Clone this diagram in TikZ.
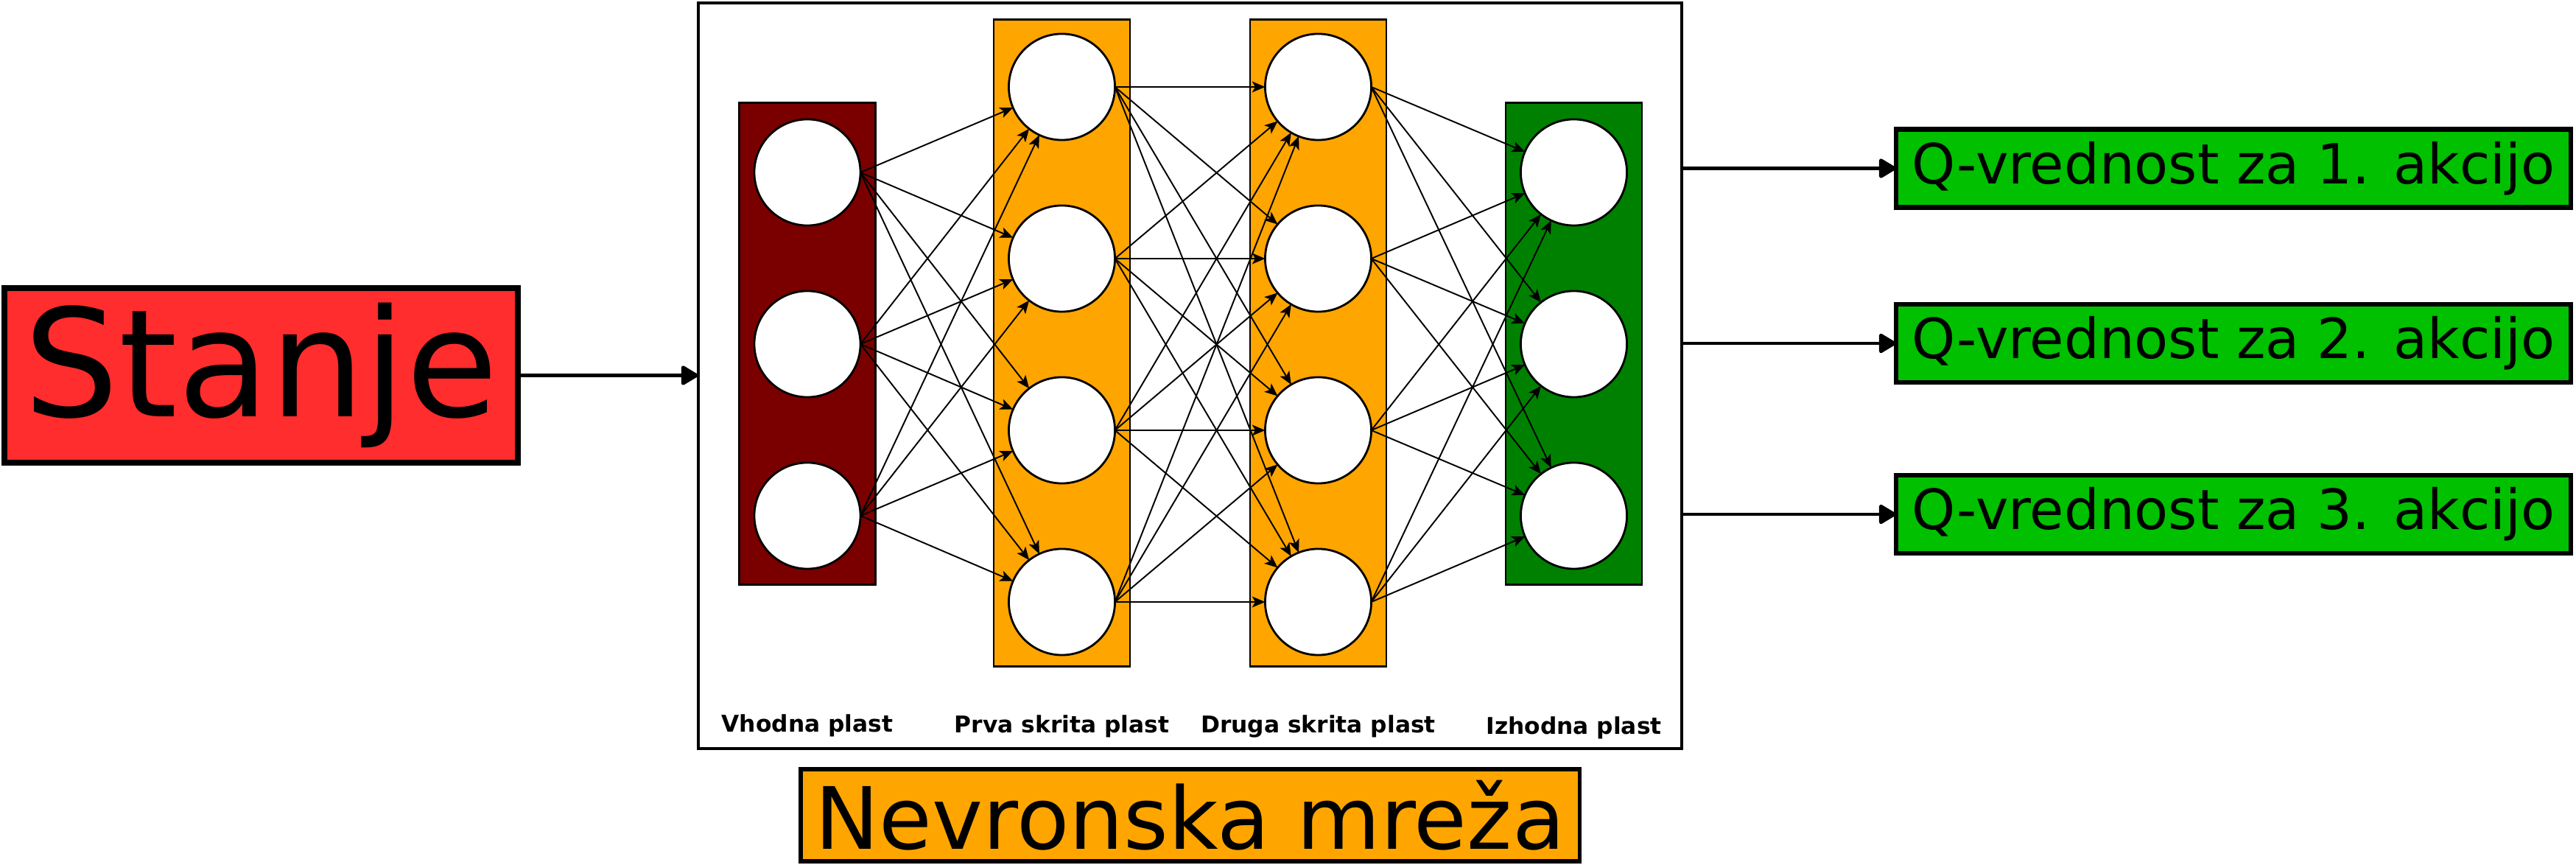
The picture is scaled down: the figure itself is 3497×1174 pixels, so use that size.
\documentclass[tikz,border=0pt]{standalone}
\usepackage{fontspec}
\setmainfont{DejaVu Sans}
\usetikzlibrary{arrows.meta}
\definecolor{stred}{HTML}{FF2D2D}
\definecolor{inred}{HTML}{7A0000}
\definecolor{hidor}{HTML}{FFA500}
\definecolor{outgr}{HTML}{008000}
\definecolor{qgr}{HTML}{00C000}
\begin{document}
\begin{tikzpicture}[x=0.01cm,y=-0.01cm,
 every node/.style={inner sep=0pt, outer sep=0pt},
 layerbox/.style={draw, rectangle, line width=0.8pt, minimum width=1.85cm},
 neuron/.style={draw, circle, fill=white, line width=0.8pt, minimum size=1.44cm},
 conn/.style={-{Stealth[length=5pt,width=4.2pt,inset=1.2pt]}, line width=0.55pt},
 bigarrow/.style={-{Triangle[round,length=7.2pt,width=8.2pt]}, line width=1.4pt},
 lbl/.style={font=\bfseries\fontsize{8.9pt}{10pt}\selectfont, anchor=base},
 qbox/.style={draw, rectangle, fill=qgr, line width=1.8pt, minimum width=9.16cm, minimum height=1.06cm, font=\fontsize{21.4pt}{24pt}\selectfont},
]
\useasboundingbox (0,0) rectangle (3497,1174);

% main blocks
\node[draw, rectangle, fill=stred, line width=2.3pt, minimum width=6.97cm, minimum height=2.37cm,
      font=\fontsize{57.8pt}{60pt}\selectfont] (stanje) at (354.5,509.5) {Stanje};
\node[draw, rectangle, fill=white, line width=1.15pt, minimum width=13.35cm, minimum height=10.12cm] (net) at (1615.5,510) {};
\node[draw, rectangle, fill=hidor, line width=1.6pt, minimum width=10.57cm, minimum height=1.25cm,
      font=\fontsize{33.2pt}{35pt}\selectfont] (nm) at (1615.5,1106.5) {Nevronska mreža};

\node[qbox] (q1) at (3032,228.5) {Q-vrednost za 1. akcijo};
\node[qbox] (q2) at (3032,466) {Q-vrednost za 2. akcijo};
\node[qbox] (q3) at (3032,698) {Q-vrednost za 3. akcijo};

% layer boxes
\node[layerbox, fill=inred, minimum height=6.54cm] (Lin) at (1096,466.5) {};
\node[layerbox, fill=hidor, minimum height=8.78cm] (Lh1) at (1441.5,465.5) {};
\node[layerbox, fill=hidor, minimum height=8.78cm] (Lh2) at (1789.5,465.5) {};
\node[layerbox, fill=outgr, minimum height=6.54cm] (Lout) at (2136.5,466.5) {};

% neurons
\foreach \k/\yy in {1/234,2/467,3/700} {
  \node[neuron] (i\k) at (1096,\yy) {};
  \node[neuron] (o\k) at (2136.5,\yy) {};
}
\foreach \k/\yy in {1/118,2/351,3/584,4/817} {
  \node[neuron] (a\k) at (1441.5,\yy) {};
  \node[neuron] (b\k) at (1789.5,\yy) {};
}

% connections
\foreach \s in {1,2,3} \foreach \t in {1,2,3,4} \draw[conn] (i\s.east) -- (a\t);
\foreach \s in {1,2,3,4} \foreach \t in {1,2,3,4} \draw[conn] (a\s.east) -- (b\t);
\foreach \s in {1,2,3,4} \foreach \t in {1,2,3} \draw[conn] (b\s.east) -- (o\t);

% layer labels
\node[lbl] (tin) at (1096,994) {Vhodna plast};
\node[lbl] (th1) at (1441.5,995) {Prva skrita plast};
\node[lbl] (th2) at (1789.5,995) {Druga skrita plast};
\node[lbl] (tout) at (2136.5,997) {Izhodna plast};

% big arrows
\draw[bigarrow] (stanje.east) -- (stanje.east -| net.west);
\draw[bigarrow] (net.east |- q1.west) -- (q1.west);
\draw[bigarrow] (net.east |- q2.west) -- (q2.west);
\draw[bigarrow] (net.east |- q3.west) -- (q3.west);
\end{tikzpicture}
\end{document}
